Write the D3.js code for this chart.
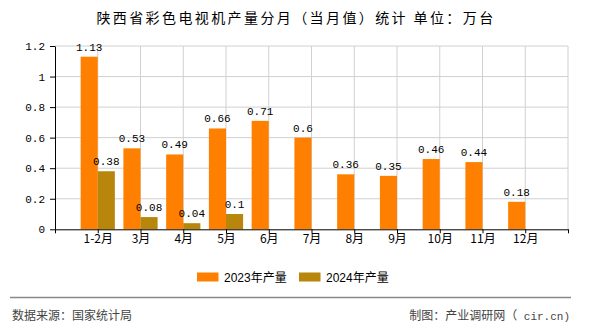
<!DOCTYPE html>
<html><head><meta charset="utf-8">
<script src="https://cdn.jsdelivr.net/npm/d3@7"></script>
<style>body{margin:0;background:#fff;}svg{display:block;}</style>
</head><body>
<script>
const categories = ["1-2月","3月","4月","5月","6月","7月","8月","9月","10月","11月","12月"];
const values2023 = [1.13,0.53,0.49,0.66,0.71,0.6,0.36,0.35,0.46,0.44,0.18];
const values2024 = [0.38,0.08,0.04,0.1,null,null,null,null,null,null,null];
const yTicks = [0,0.2,0.4,0.6,0.8,1,1.2];
const seriesNames = ["2023年产量","2024年产量"];
const colors = ["#FF8000","#B8860B"];

const W=590,H=330;
const svg=d3.select("body").append("svg").attr("width",W).attr("height",H);
const monoFont="'Liberation Mono','DejaVu Sans Mono',monospace";
const cjkFont="'Noto Sans CJK SC','Noto Sans',sans-serif";

const x=d3.scaleLinear().domain([0,12]).range([55,568]);
const y=d3.scaleLinear().domain([0,1.2]).range([229.3,46]);

// title
svg.append("text").attr("x",296).attr("y",22.5).attr("text-anchor","middle")
  .attr("font-family",cjkFont).attr("font-size",14).attr("letter-spacing","2.4px")
  .attr("fill","#000").text("陕西省彩色电视机产量分月（当月值）统计 单位：万台");

// grid
const grid=svg.append("g");
grid.selectAll("line.h").data(yTicks.filter(d=>d>0)).join("line")
  .attr("x1",x(0)).attr("x2",x(12)).attr("y1",d=>y(d)).attr("y2",d=>y(d))
  .attr("stroke","#d0d0d0").attr("stroke-width",1);
grid.selectAll("line.v").data(d3.range(1,13)).join("line")
  .attr("x1",d=>x(d)).attr("x2",d=>x(d)).attr("y1",y(0)).attr("y2",y(1.2))
  .attr("stroke","#d0d0d0").attr("stroke-width",1);

// bars
const bw=x(0.4)-x(0);
const bars=svg.append("g");
bars.selectAll("rect.a").data(values2023).join("rect")
  .attr("x",(d,i)=>x(i+1)-bw).attr("width",bw)
  .attr("y",d=>y(d)).attr("height",d=>y(0)-y(d)).attr("fill",colors[0]);
bars.selectAll("rect.b").data(values2024.map((v,i)=>({v,i})).filter(d=>d.v!=null)).join("rect")
  .attr("x",d=>x(d.i+1)).attr("width",bw)
  .attr("y",d=>y(d.v)).attr("height",d=>y(0)-y(d.v)).attr("fill",colors[1]);

// labels
const lab=svg.append("g").attr("font-family",monoFont).attr("font-size",11).attr("text-anchor","middle").attr("fill","#000");
lab.selectAll("text.a").data(values2023).join("text")
  .attr("x",(d,i)=>x(i+1)-bw/2).attr("y",d=>y(d)-6).text(d=>d);
lab.selectAll("text.b").data(values2024.map((v,i)=>({v,i})).filter(d=>d.v!=null)).join("text")
  .attr("x",d=>x(d.i+1)+bw/2).attr("y",d=>y(d.v)-6).text(d=>d.v);

// y axis
const ya=svg.append("g").attr("transform",`translate(${x(0)},0)`)
  .call(d3.axisLeft(y).tickValues(yTicks).tickFormat(d=>d).tickSize(5).tickSizeOuter(0));
ya.select(".domain").attr("stroke","#000");
ya.selectAll("text").attr("font-family",monoFont).attr("font-size",11).attr("fill","#000").attr("dx","-2");

// x axis
const xa=svg.append("g").attr("transform",`translate(0,${y(0)})`)
  .call(d3.axisBottom(x).tickValues(d3.range(0,13)).tickFormat(d=>(d>=1&&d<=11)?categories[d-1]:"").tickSize(4).tickSizeOuter(0));
xa.select(".domain").attr("stroke","#000");
xa.selectAll("text").attr("font-family",cjkFont).attr("font-size",12).attr("fill","#000").attr("dy","0.6em");

// legend
const lg=svg.append("g");
const lx=[197,299];
seriesNames.forEach((n,i)=>{
  lg.append("rect").attr("x",lx[i]).attr("y",272.5).attr("width",21.5).attr("height",9).attr("fill",colors[i]);
  lg.append("text").attr("x",lx[i]+27).attr("y",281.5).attr("font-family","'Liberation Sans','Noto Sans CJK SC',sans-serif")
    .attr("font-size",12).attr("fill","#000").text(n);
});

// footer
svg.append("line").attr("x1",10).attr("x2",571).attr("y1",297.5).attr("y2",297.5).attr("stroke","#888").attr("stroke-width",1.5);
svg.append("text").attr("x",12).attr("y",319.5).attr("font-family",cjkFont).attr("font-size",12).attr("fill","#444").text("数据来源：国家统计局");
const ft=svg.append("text").attr("x",570).attr("y",319.5).attr("text-anchor","end").attr("font-family",cjkFont).attr("font-size",12).attr("fill","#444");
ft.append("tspan").text("制图：产业调研网（");
ft.append("tspan").attr("font-family",monoFont).attr("font-size",11).text(" cir.cn)");
</script>
</body></html>
